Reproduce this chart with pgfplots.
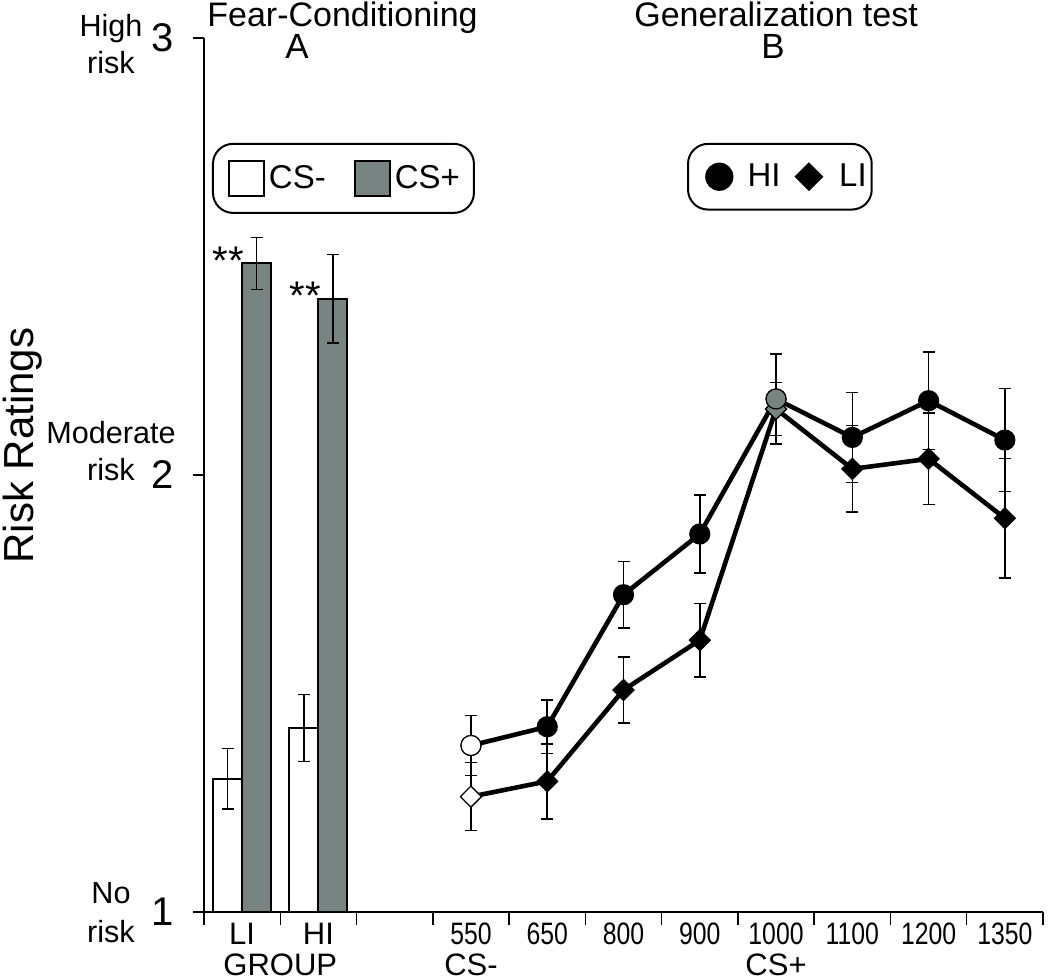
\documentclass[border=0pt]{standalone}
\usepackage{fontspec}
\setmainfont{Liberation Sans}
\newfontfamily\narrowfont[FakeStretch=0.8]{Liberation Sans}
\usepackage{pgfplots}
\pgfplotsset{compat=1.18}
\definecolor{barfill}{RGB}{120,132,130}
\pgfplotsset{
  common/.style={
    scale only axis, width=419.5pt, height=437pt,
    xmin=0, xmax=11, ymin=1, ymax=3,
    clip mode=individual,
  },
  lg/.style={
    legend cell align=left,
    legend columns=2,
    legend style={anchor=north west, draw=black, line width=1pt, rounded corners=10pt,
      font=\fontsize{16.5}{16.5}\selectfont, inner ysep=8pt},
  },
  sqlegend/.style={legend image code/.code={\draw[##1, sharp corners, line width=1pt] (0pt,-8.75pt) rectangle (17.5pt,8.75pt);\path (-2.5pt,0pt);}},
  circlegend/.style={legend image code/.code={\draw[##1, sharp corners, mark size=6.75pt] plot coordinates {(0pt,0pt)};\path (-14pt,0pt) (11pt,0pt);}},
  diamlegend/.style={legend image code/.code={\draw[##1, sharp corners, mark size=4.8pt] plot coordinates {(0pt,0pt)};\path (-7pt,0pt) (12pt,0pt);}},
  ebar/.style={error bars/.cd, y dir=both, y explicit,
    error bar style={line width=0.75pt, black, solid},
    error mark options={rotate=90, line width=0.75pt, mark size=3pt, black, solid}},
}

\begin{document}
\begin{tikzpicture}
\useasboundingbox (-102pt,-34pt) rectangle (423pt,456pt);
% ---------------- bars + axes ----------------
\begin{axis}[common, lg,
  axis x line*=bottom, axis y line*=left,
  axis line style={line width=0.75pt},
  tick align=outside,
  xtick={0.5,1.5,3.5,4.5,5.5,6.5,7.5,8.5,9.5,10.5},
  xticklabels={LI,HI,{\narrowfont 550},{\narrowfont 650},{\narrowfont 800},{\narrowfont 900},{\narrowfont 1000},{\narrowfont 1100},{\narrowfont 1200},{\narrowfont 1350}},
  minor xtick={0,1,...,11},
  major x tick style={draw=none},
  minor x tick style={line width=0.75pt, black},
  minor tick length=6.5pt,
  major tick length=5.5pt,
  ytick={1,2,3}, yticklabels={1,2,3},
  ytick style={line width=0.75pt, black},
  xticklabel style={font=\fontsize{15.5}{15.5}\selectfont, anchor=base, yshift=-10.5pt},
  yticklabel style={font=\fontsize{20}{20}\selectfont, xshift=-6pt},
  legend style={at={(0.0095,0.880)}, inner xsep=5pt,
    /tikz/every even column/.append style={column sep=9.5pt}},
]
\addplot[sqlegend, ybar, bar width=0.38, bar shift=0, fill=white, draw=black, line width=1pt, ebar]
  coordinates {(0.31,1.305) +- (0,0.069) (1.31,1.421) +- (0,0.077)};
\addlegendentry{CS-}
\addplot[sqlegend, ybar, bar width=0.38, bar shift=0, fill=barfill, draw=black, line width=1pt, ebar]
  coordinates {(0.69,2.484) +- (0,0.060) (1.69,2.403) +- (0,0.101)};
\addlegendentry{CS+}

% significance stars
\node[anchor=base, yshift=-11pt, font=\fontsize{20}{20}\selectfont] at (axis cs:0.32,2.51) {**};
\node[anchor=base, yshift=-11pt, font=\fontsize{20}{20}\selectfont] at (axis cs:1.33,2.43) {**};

% titles
\node[anchor=base west, inner sep=0pt, xshift=1.5pt, yshift=5.5pt, font=\fontsize{17}{17}\selectfont] at (axis cs:0,3) {Fear-Conditioning};
\node[anchor=base, inner sep=0pt, yshift=-10.5pt, font=\fontsize{17.5}{17.5}\selectfont] at (axis cs:1.22,3) {A};
\node[anchor=base, inner sep=0pt, yshift=5.5pt, font=\fontsize{17}{17}\selectfont] at (axis cs:7.5,3) {Generalization test};
\node[anchor=base, inner sep=0pt, yshift=-10.5pt, font=\fontsize{17.5}{17.5}\selectfont] at (axis cs:7.46,3) {B};

% y tick descriptions
\node[anchor=base, xshift=-46.5pt, yshift=0.5pt, font=\fontsize{15.3}{15.3}\selectfont] at (axis cs:0,3) {High};
\node[anchor=base, xshift=-46.5pt, yshift=-18pt, font=\fontsize{15.3}{15.3}\selectfont] at (axis cs:0,3) {risk};
\node[anchor=base, xshift=-46.5pt, yshift=15.5pt, font=\fontsize{15.3}{15.3}\selectfont] at (axis cs:0,2) {Moderate};
\node[anchor=base, xshift=-46.5pt, yshift=-3pt, font=\fontsize{15.3}{15.3}\selectfont] at (axis cs:0,2) {risk};
\node[anchor=base, xshift=-46.5pt, yshift=4.5pt, font=\fontsize{15.3}{15.3}\selectfont] at (axis cs:0,1) {No};
\node[anchor=base, xshift=-46.5pt, yshift=-15pt, font=\fontsize{15.3}{15.3}\selectfont] at (axis cs:0,1) {risk};

% y label
\node[rotate=90, font=\fontsize{21}{21}\selectfont] at ([xshift=-90.5pt]axis cs:0,2.067) {Risk Ratings};

% second row of x labels
\node[anchor=base, yshift=-31.5pt, font=\fontsize{15.5}{15.5}\selectfont] at (axis cs:1,1) {GROUP};
\node[anchor=base, yshift=-31.5pt, font=\fontsize{15.5}{15.5}\selectfont] at (axis cs:3.5,1) {CS-};
\node[anchor=base, yshift=-31.5pt, font=\fontsize{15.5}{15.5}\selectfont] at (axis cs:7.5,1) {CS+};
\end{axis}

% ---------------- generalization lines ----------------
\begin{axis}[common, lg, hide axis,
  legend style={at={(0.5757,0.880)}, inner xsep=0.5pt,
    /tikz/every even column/.append style={column sep=4pt}},
]
\addplot[circlegend, black, line width=2.3pt, mark=*, mark size=5pt,
  mark options={fill=black, draw=black, line width=0.6pt, sharp corners}, ebar]
  coordinates {
    (3.5,1.381) +- (0,0.069)
    (4.5,1.424) +- (0,0.061)
    (5.5,1.726) +- (0,0.076)
    (6.5,1.865) +- (0,0.089)
    (7.5,2.174) +- (0,0.103)
    (8.5,2.086) +- (0,0.103)
    (9.5,2.170) +- (0,0.112)
    (10.5,2.080) +- (0,0.118)
  };
\addlegendentry{HI}
\addplot[diamlegend, black, line width=2.3pt, mark=square*, mark size=3.7pt,
  mark options={fill=black, draw=black, line width=0.6pt, rotate=45, sharp corners}, ebar]
  coordinates {
    (3.5,1.264) +- (0,0.078)
    (4.5,1.299) +- (0,0.086)
    (5.5,1.508) +- (0,0.075)
    (6.5,1.622) +- (0,0.084)
    (7.5,2.151) +- (0,0.061)
    (8.5,2.014) +- (0,0.099)
    (9.5,2.037) +- (0,0.105)
    (10.5,1.901) +- (0,0.137)
  };
\addlegendentry{LI}
% special markers (CS- open, CS+ grey)
\addplot[forget plot, only marks, mark=square*, mark size=3.7pt,
  mark options={fill=white, draw=black, line width=0.6pt, rotate=45}] coordinates {(3.5,1.264)};
\addplot[forget plot, only marks, mark=square*, mark size=3.7pt,
  mark options={fill=barfill, draw=black, line width=0.6pt, rotate=45}] coordinates {(7.5,2.151)};
\addplot[forget plot, only marks, mark=*, mark size=5pt,
  mark options={fill=white, draw=black, line width=0.6pt}] coordinates {(3.5,1.381)};
\addplot[forget plot, only marks, mark=*, mark size=5pt,
  mark options={fill=barfill, draw=black, line width=0.6pt}] coordinates {(7.5,2.174)};
\end{axis}
\end{tikzpicture}
\end{document}
